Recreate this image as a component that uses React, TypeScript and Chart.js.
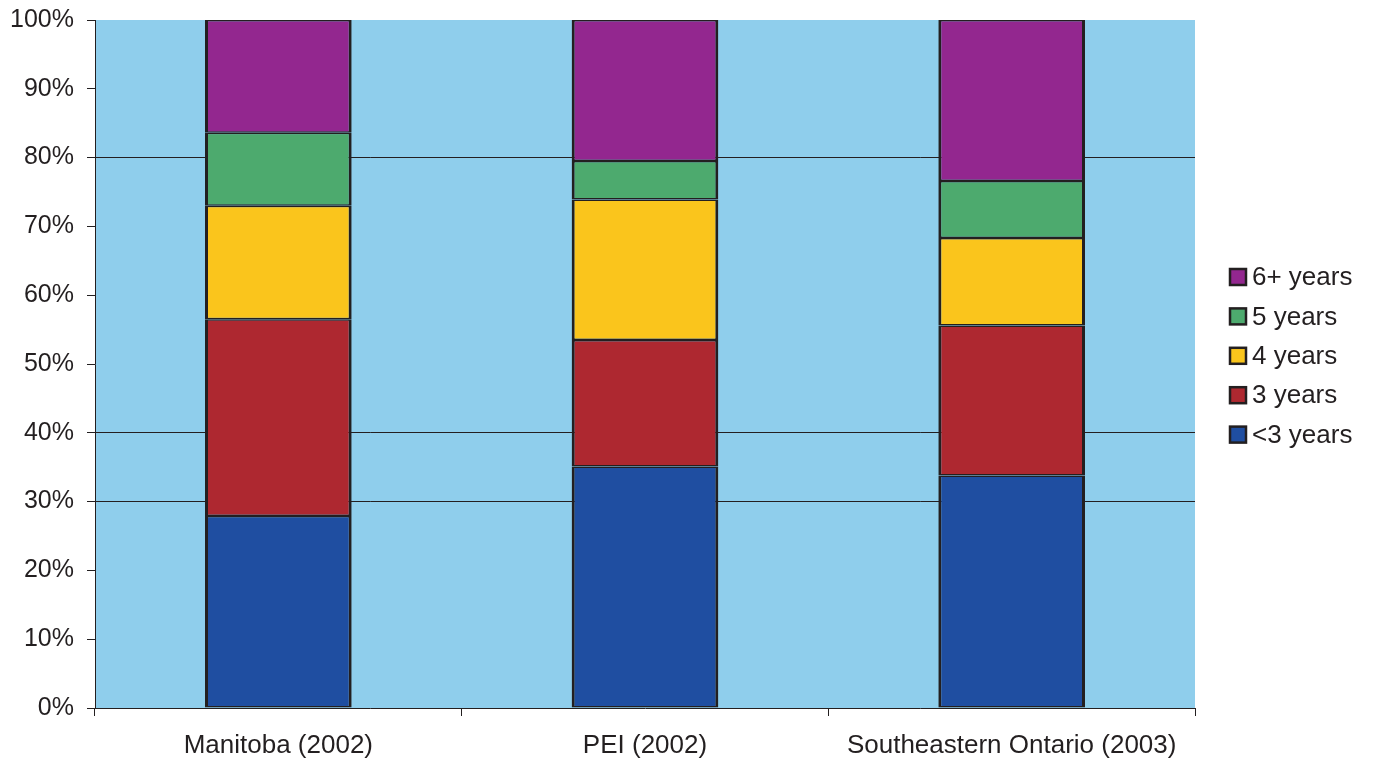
import React, { useEffect, useRef } from "react";
import { Chart, registerables } from "chart.js";

Chart.register(...registerables);

const categories = ["Manitoba (2002)", "PEI (2002)", "Southeastern Ontario (2003)"];
const seriesNames = ["<3 years", "3 years", "4 years", "5 years", "6+ years"];
const under3 = [27.9, 35.1, 33.8];
const three = [28.6, 18.4, 21.8];
const four = [16.5, 20.4, 12.7];
const five = [10.6, 5.6, 8.3];
const sixPlus = [16.4, 20.5, 23.4];
const seriesValues = [under3, three, four, five, sixPlus];
const seriesColors = ["#1F4EA1", "#AE2830", "#FAC51C", "#4DAA6E", "#93278F"];
const yTicks = [0, 10, 20, 30, 40, 50, 60, 70, 80, 90, 100];
const gridValues = [30, 40, 80];

const INK = "#231F20";
const FONT = "'Liberation Sans', Arial, sans-serif";

const bgPlugin = {
  id: "plotBg",
  beforeDraw(chart: any) {
    const { ctx, chartArea } = chart;
    ctx.save();
    ctx.fillStyle = "#8FCEEC";
    ctx.fillRect(chartArea.left, chartArea.top, chartArea.right - chartArea.left, chartArea.bottom - chartArea.top);
    ctx.restore();
  },
};

const legendPlugin = {
  id: "sideLegend",
  afterDraw(chart: any) {
    const { ctx, chartArea } = chart;
    const ds = chart.data.datasets.slice().reverse();
    const x = chartArea.right + 35;
    const y0 = 277;
    const step = 39.4;
    const size = 16;
    ctx.save();
    ctx.font = `26px ${FONT}`;
    ctx.textBaseline = "middle";
    ctx.textAlign = "left";
    ds.forEach((d: any, i: number) => {
      const cy = y0 + i * step;
      ctx.fillStyle = d.backgroundColor;
      ctx.fillRect(x, cy - size / 2, size, size);
      ctx.strokeStyle = INK;
      ctx.lineWidth = 2.5;
      ctx.strokeRect(x, cy - size / 2, size, size);
      ctx.fillStyle = INK;
      ctx.fillText(d.label, x + 22, cy + 1);
    });
    ctx.restore();
  },
};

export default function App() {
  const ref = useRef<HTMLCanvasElement | null>(null);
  useEffect(() => {
    if (!ref.current) return;
    const chart = new Chart(ref.current, {
      type: "bar",
      data: {
        labels: categories,
        datasets: seriesNames.map((name, i) => ({
          label: name,
          data: seriesValues[i],
          backgroundColor: seriesColors[i],
          borderColor: INK,
          borderWidth: { top: 1.5, bottom: 1.5, left: 3, right: 3 },
          borderSkipped: false,
          barPercentage: 0.4,
          categoryPercentage: 1,
        })),
      },
      options: {
        responsive: false,
        animation: false,
        layout: { padding: { top: 20, right: 178, bottom: 0, left: 0 } },
        plugins: { legend: { display: false }, tooltip: { enabled: false } },
        scales: {
          x: {
            stacked: true,
            grid: {
              offset: true,
              drawOnChartArea: false,
              drawTicks: true,
              tickLength: 8,
              color: INK,
            },
            border: { display: true, color: INK, width: 1 },
            ticks: { color: INK, font: { family: FONT, size: 26 }, padding: 14 },
            afterFit: (s: any) => { s.height = 53; },
          },
          y: {
            stacked: true,
            min: 0,
            max: 100,
            afterBuildTicks: (s: any) => { s.ticks = yTicks.map((v) => ({ value: v })); },
            grid: {
              color: (c: any) => (c.tick && gridValues.includes(c.tick.value) ? INK : "rgba(0,0,0,0)"),
              tickColor: INK,
              tickLength: 8,
              lineWidth: 1,
            },
            border: { display: true, color: INK, width: 1 },
            ticks: {
              color: INK,
              font: { family: FONT, size: 25, lineHeight: 0.5 },
              padding: 13,
              callback: (v: any) => `${v}%`,
            },
            afterFit: (s: any) => { s.width = 95; },
          },
        },
      },
      plugins: [bgPlugin, legendPlugin],
    });
    return () => chart.destroy();
  }, []);
  return (
    <div style={{ position: "absolute", left: 0, top: 0, width: 1373, height: 761, background: "#fff" }}>
      <canvas ref={ref} width={1373} height={761} style={{ display: "block" }} />
    </div>
  );
}
